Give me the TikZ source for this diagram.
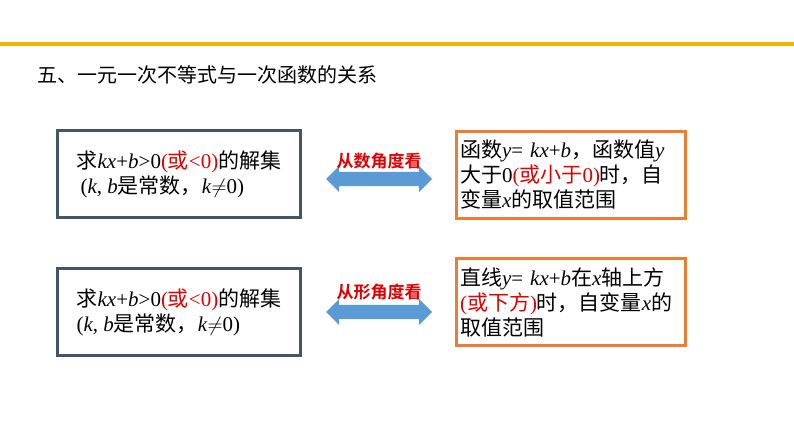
\documentclass[tikz,border=0pt]{standalone}
\usepackage{fontspec}
\setmainfont{Liberation Serif}
\newfontfamily\cjk{Noto Sans CJK SC}[BoldFont={Noto Sans CJK SC Bold}]
\usetikzlibrary{shapes.arrows,positioning}
\definecolor{barYellow}{HTML}{F0B400}
\definecolor{slateLine}{HTML}{44546A}
\definecolor{orangeLine}{HTML}{ED7D31}
\definecolor{arrowBlue}{HTML}{5B9BD5}
\definecolor{textRed}{HTML}{E00000}
\newcommand{\zh}[1]{{\cjk #1}}
\newcommand{\rd}[1]{\textcolor{textRed}{#1}}
\begin{document}
\begin{tikzpicture}[x=1pt,y=-1pt,
    leftBox/.style={draw=slateLine, line width=2.5pt, minimum width=243pt, minimum height=87pt, align=left, font=\fontsize{21}{25}\selectfont},
    rightBox/.style={draw=orangeLine, line width=3.5pt, text width=222pt, minimum height=87pt, align=left, font=\fontsize{21}{25}\selectfont},
    twoWay/.style={double arrow, fill=arrowBlue, draw=none, inner sep=7pt, double arrow head extend=6pt, minimum height=106pt},
    viewLabel/.style={font=\cjk\bfseries\fontsize{17}{19}\selectfont, text=textRed}
  ]
  \useasboundingbox (0,0) rectangle (794,447);
  \draw[barYellow, line width=4pt] (0,44) -- (794,44);
  \node[anchor=west, font=\cjk\fontsize{20}{24}\selectfont] (title) at (34,75) {五、一元一次不等式与一次函数的关系};
  % first row
  \node[leftBox] (ineqA) at (179,174) {\zh{求}\textit{kx}+\textit{b}>0\rd{(\zh{或}<0)}\zh{的解集}\\\hspace{4pt}(\textit{k}, \textit{b}\zh{是常数，}\textit{k}$\neq$0)};
  \node[rightBox] (funcA) at (571,175) {\zh{函数}\textit{y}= \textit{kx}+\textit{b}\zh{，函数值}\textit{y}\\\zh{大于}0\rd{(\zh{或小于}0)}\zh{时，自}\\\zh{变量}\textit{x}\zh{的取值范围}};
  \node[twoWay] (arrA) at (379,179) {};
  \node[viewLabel] (labA) at (379,161) {从数角度看};
  % second row
  \node[leftBox] (ineqB) at (179,312) {\zh{求}\textit{kx}+\textit{b}>0\rd{(\zh{或}<0)}\zh{的解集}\\(\textit{k}, \textit{b}\zh{是常数，}\textit{k}$\neq$0)};
  \node[rightBox] (funcB) at (571,302) {\zh{直线}\textit{y}= \textit{kx}+\textit{b}\zh{在}\textit{x}\zh{轴上方}\\\rd{(\zh{或下方})}\zh{时，自变量}\textit{x}\zh{的}\\\zh{取值范围}};
  \node[twoWay] (arrB) at (379,312) {};
  \node[viewLabel] (labB) at (379,292) {从形角度看};
\end{tikzpicture}
\end{document}
